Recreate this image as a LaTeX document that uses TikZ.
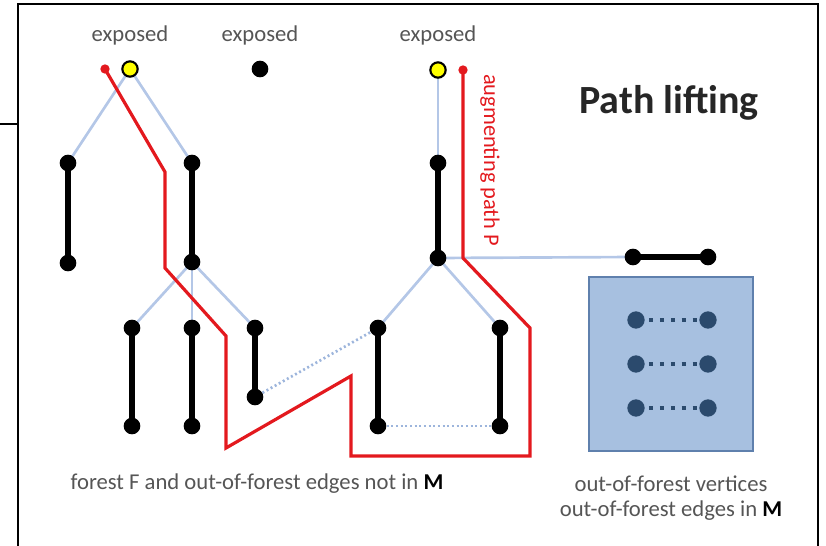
\documentclass[tikz,border=0pt]{standalone}
\usepackage{fontspec}
\setmainfont{Carlito}
\usetikzlibrary{backgrounds}
\definecolor{lb}{HTML}{B4C7E7}
\definecolor{ldot}{HTML}{9DB5DC}
\definecolor{rd}{HTML}{E3191E}
\definecolor{gt}{HTML}{555555}
\definecolor{boxf}{HTML}{A7C0E0}
\definecolor{boxd}{HTML}{5F80AD}
\definecolor{dk}{HTML}{2B4A6D}
\definecolor{yl}{HTML}{FFFF00}
\begin{document}
\begin{tikzpicture}[x=0.75pt,y=-0.75pt,
  bv/.style={circle,fill=black,inner sep=0pt,minimum size=12.5pt},
  yv/.style={circle,fill=yl,draw=black,line width=1.6pt,inner sep=0pt,minimum size=11.5pt},
  rv/.style={circle,fill=rd,inner sep=0pt,minimum size=7pt},
  dv/.style={circle,fill=dk,inner sep=0pt,minimum size=13pt},
  me/.style={line width=4.3pt,black},
  fe/.style={line width=2pt,lb},
  de/.style={line width=2pt,ldot,dash pattern=on 1.5pt off 2pt},
  ie/.style={line width=3.6pt,dk,dash pattern=on 3.2pt off 5pt,dash phase=-3pt},
  rp/.style={line width=2.4pt,rd,line join=miter},
  lbl/.style={text=gt,font=\fontsize{17pt}{20pt}\selectfont,inner sep=0pt},
  frame/.style={line width=2.2pt,black}
]
\useasboundingbox (0,0) rectangle (826,546);
% frame
\draw[frame] (18,548) -- (18,4) -- (818,4) -- (818,548);
\draw[line width=1.2pt] (0,124) -- (18,124);

% blue box
\node[draw=boxd,fill=boxf,line width=1.5pt,minimum width=123pt,minimum height=130pt,inner sep=0pt] (box) at (671,364) {};

% vertices
\node[rv] (r1) at (105,69) {};
\node[yv] (y1) at (130,69) {};
\node[bv] (x1) at (260,69) {};
\node[yv] (y2) at (438,70) {};
\node[rv] (r2) at (463,70) {};

\node[bv] (a1) at (68,163) {};
\node[bv] (a2) at (68,263) {};
\node[bv] (b1) at (192,163) {};
\node[bv] (b2) at (192,262) {};
\node[bv] (c1) at (132,328) {};
\node[bv] (c2) at (132,426) {};
\node[bv] (d1) at (192,328) {};
\node[bv] (d2) at (192,426) {};
\node[bv] (e1) at (255,328) {};
\node[bv] (e2) at (255,397) {};

\node[bv] (m1) at (438,163) {};
\node[bv] (m2) at (438,258) {};
\node[bv] (f1) at (378,328) {};
\node[bv] (f2) at (378,426) {};
\node[bv] (g1) at (500,328) {};
\node[bv] (g2) at (500,426) {};

\node[bv] (h1) at (633,257) {};
\node[bv] (h2) at (708,257) {};

\node[dv] (i1) at (636,320) {};
\node[dv] (i2) at (708,320) {};
\node[dv] (j1) at (636,364) {};
\node[dv] (j2) at (708,364) {};
\node[dv] (k1) at (636,408) {};
\node[dv] (k2) at (708,408) {};

\begin{scope}[on background layer]
  % forest edges not in M
  \draw[fe] (y1.center) -- (a1.center);
  \draw[fe] (y1.center) -- (b1.center);
  \draw[fe] (b2.center) -- (c1.center);
  \draw[fe] (b2.center) -- (d1.center);
  \draw[fe] (b2.center) -- (e1.center);
  \draw[fe] (y2.center) -- (m1.center);
  \draw[fe] (m2.center) -- (f1.center);
  \draw[fe] (m2.center) -- (g1.center);
  \draw[fe] (m2.center) -- (h1.center);
  % out-of-forest edges not in M
  \draw[de] (e2) -- (f1);
  \draw[de] (f2) -- (g2);
  % augmenting path
  \draw[rp] (r1.center) -- (165,172) -- (165,268) -- (226,336) -- (226,448)
     -- (351,376) -- (351,456) -- (530,456) -- (530,328) -- (463,258) -- (r2.center);
  % matched edges
  \draw[me] (a1.center) -- (a2.center);
  \draw[me] (b1.center) -- (b2.center);
  \draw[me] (c1.center) -- (c2.center);
  \draw[me] (d1.center) -- (d2.center);
  \draw[me] (e1.center) -- (e2.center);
  \draw[me] (m1.center) -- (m2.center);
  \draw[me] (f1.center) -- (f2.center);
  \draw[me] (g1.center) -- (g2.center);
  \draw[me] (h1.center) -- (h2.center);
\end{scope}
% out-of-forest matched edges
\draw[ie] (i1) -- (i2);
\draw[ie] (j1) -- (j2);
\draw[ie] (k1) -- (k2);

% labels
\node[lbl] (t1) at (130,35) {exposed};
\node[lbl] (t2) at (260,35) {exposed};
\node[lbl] (t3) at (438,35) {exposed};
\node[text=rd,font=\fontsize{16.8pt}{20pt}\selectfont,rotate=-90,inner sep=0pt] (tp) at (490,160) {augmenting path P};
\node[font=\fontsize{30pt}{35pt}\selectfont\bfseries,text=black!85,inner sep=0pt] (title) at (669,103) {Path lifting};
\node[lbl] (tb1) at (257,484) {forest F and out-of-forest edges not in \textcolor{black}{\textbf{M}}};
\node[lbl] (tb2) at (671,484) {out-of-forest vertices};
\node[lbl] (tb3) at (671,511) {out-of-forest edges in \textcolor{black}{\textbf{M}}};
\end{tikzpicture}
\end{document}
